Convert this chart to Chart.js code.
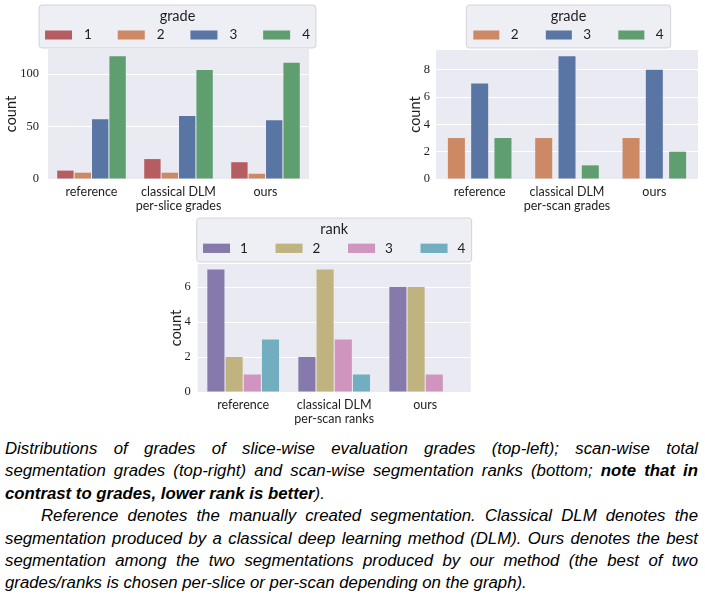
<!DOCTYPE html>
<html>
<head>
<meta charset="utf-8">
<script src="https://cdn.jsdelivr.net/npm/chart.js@4.4.0/dist/chart.umd.min.js"></script>
<style>
  html, body { margin: 0; padding: 0; background: #fff; }
  body { width: 705px; height: 594px; position: relative; overflow: hidden; }
  canvas { position: absolute; }
  #caption {
    position: absolute; left: 5px; top: 438px; width: 693px;
    font-family: "Liberation Sans", Arial, sans-serif; font-style: italic;
    font-size: 16.8px; line-height: 22.4px; color: #000;
  }
  #caption div { white-space: nowrap; text-align: justify; text-align-last: justify; }
  #caption div.last { text-align-last: left; }
  #caption div.ind { padding-left: 36px; }
</style>
</head>
<body>
<canvas id="slice-chart" width="325" height="220" style="left:0;top:0"></canvas>
<canvas id="scan-chart" width="315" height="220" style="left:390px;top:0"></canvas>
<canvas id="rank-chart" width="330" height="216" style="left:150px;top:212px"></canvas>

<div id="caption">
  <div>Distributions of grades of slice-wise evaluation grades (top-left); scan-wise total</div>
  <div>segmentation grades (top-right) and scan-wise segmentation ranks (bottom; <b>note that in</b></div>
  <div class="last"><b>contrast to grades, lower rank is better</b>).</div>
  <div class="ind">Reference denotes the manually created segmentation. Classical DLM denotes the</div>
  <div>segmentation produced by a classical deep learning method (DLM). Ours denotes the best</div>
  <div>segmentation among the two segmentations produced by our method (the best of two</div>
  <div class="last">grades/ranks is chosen per-slice or per-scan depending on the graph).</div>
</div>

<script>
// values

// per-slice grades (top-left)
var sliceCategories = ['reference', ['classical DLM', 'per-slice grades'], 'ours'];
var sliceGrade1 = [8, 19, 16];
var sliceGrade2 = [6, 6, 5];
var sliceGrade3 = [57, 60, 56];
var sliceGrade4 = [117, 104, 111];
var sliceTicks = [0, 50, 100];

// per-scan grades (top-right)
var scanCategories = ['reference', ['classical DLM', 'per-scan grades'], 'ours'];
var scanGrade2 = [3, 3, 3];
var scanGrade3 = [7, 9, 8];
var scanGrade4 = [3, 1, 2];
var scanTicks = [0, 2, 4, 6, 8];

// per-scan ranks (bottom)
var rankCategories = ['reference', ['classical DLM', 'per-scan ranks'], 'ours'];
var rank1 = [7, 2, 6];
var rank2 = [2, 7, 6];
var rank3 = [1, 3, 1];
var rank4 = [3, 1, 0];
var rankTicks = [0, 2, 4, 6];

var textColor = '#1e1e1e';
var sansFont = 'Lato, "Open Sans", sans-serif';
var serifFont = '"Liberation Serif", "DejaVu Serif", serif';

// seaborn-ish grey panel behind the axes
var panelBg = {
    id: 'panelBg',
    beforeDraw: function (chart) {
        var a = chart.chartArea;
        var ctx = chart.ctx;
        ctx.save();
        ctx.fillStyle = '#eaeaf2';
        ctx.fillRect(a.left, a.top, a.right - a.left, a.bottom - a.top);
        ctx.restore();
    }
};

// legend drawn as a framed box above the plot, title on top, items in one row
var legendBox = {
    id: 'legendBox',
    afterDraw: function (chart, args, o) {
        var ctx = chart.ctx;
        var a = chart.chartArea;
        var sets = chart.data.datasets;
        ctx.save();
        ctx.font = '13.5px ' + sansFont;
        var lastW = o.textGap + ctx.measureText(sets[sets.length - 1].label).width;
        var w = o.pad * 2 + (sets.length - 1) * o.pitch + lastW;
        var left = (a.left + a.right) / 2 - w / 2 + (o.shift || 0);
        var top = o.top;
        var h = o.height;
        var r = 3;

        ctx.beginPath();
        ctx.moveTo(left + r, top);
        ctx.lineTo(left + w - r, top);
        ctx.arcTo(left + w, top, left + w, top + r, r);
        ctx.lineTo(left + w, top + h - r);
        ctx.arcTo(left + w, top + h, left + w - r, top + h, r);
        ctx.lineTo(left + r, top + h);
        ctx.arcTo(left, top + h, left, top + h - r, r);
        ctx.lineTo(left, top + r);
        ctx.arcTo(left, top, left + r, top, r);
        ctx.closePath();
        ctx.fillStyle = 'rgba(234,234,242,0.8)';
        ctx.fill();
        ctx.strokeStyle = 'rgba(204,204,204,0.8)';
        ctx.lineWidth = 1;
        ctx.stroke();

        ctx.fillStyle = textColor;
        ctx.textBaseline = 'middle';
        ctx.textAlign = 'center';
        ctx.font = '14.5px ' + sansFont;
        ctx.fillText(o.title, left + w / 2, top + o.titleY);

        ctx.font = '13.5px ' + sansFont;
        ctx.textAlign = 'left';
        for (var i = 0; i < sets.length; i++) {
            var x = left + o.pad + i * o.pitch;
            ctx.fillStyle = sets[i].backgroundColor;
            ctx.fillRect(x, top + o.rowY - o.patchH / 2, o.patchW, o.patchH);
            ctx.fillStyle = textColor;
            ctx.fillText(sets[i].label, x + o.textGap, top + o.rowY);
        }
        ctx.restore();
    }
};

function series(label, values, color) {
    return { label: label, data: values, backgroundColor: color, borderWidth: 0 };
}

function drawCountPlot(id, categories, datasets, yMax, yTicks, geo, legend) {
    var ctx = document.getElementById(id).getContext('2d');
    return new Chart(ctx, {
        type: 'bar',
        data: { labels: categories, datasets: datasets },
        plugins: [panelBg, legendBox],
        options: {
            responsive: false,
            animation: false,
            events: [],
            categoryPercentage: 0.8,
            barPercentage: geo.barPct,
            layout: { padding: { top: geo.top, right: geo.right, left: 0, bottom: 0 } },
            plugins: {
                legend: { display: false },
                tooltip: { enabled: false },
                legendBox: legend
            },
            scales: {
                x: {
                    grid: { display: false, drawTicks: false },
                    border: { display: false },
                    ticks: {
                        color: textColor,
                        padding: geo.xPad,
                        maxRotation: 0,
                        autoSkip: false,
                        font: { family: sansFont, size: 12.5, lineHeight: '14px' }
                    },
                    afterFit: function (s) { s.height = geo.xh; }
                },
                y: {
                    min: 0,
                    max: yMax,
                    grid: { color: '#ffffff', lineWidth: 1, drawTicks: false },
                    border: { display: false },
                    ticks: {
                        color: textColor,
                        padding: geo.yPad,
                        includeBounds: false,
                        font: { family: serifFont, size: 12.5 }
                    },
                    afterBuildTicks: function (s) {
                        s.ticks = yTicks.map(function (v) { return { value: v }; });
                    },
                    title: {
                        display: true,
                        text: 'count',
                        color: textColor,
                        font: { family: sansFont, size: 14.5 },
                        padding: { top: geo.titlePad, bottom: 0 }
                    },
                    afterFit: function (s) { s.width = geo.yw; }
                }
            }
        }
    });
}

drawCountPlot('slice-chart', sliceCategories, [
    series('1', sliceGrade1, '#b55d60'),
    series('2', sliceGrade2, '#cc8963'),
    series('3', sliceGrade3, '#5975a4'),
    series('4', sliceGrade4, '#5f9e6e')
], 124, sliceTicks,
    { top: 49, right: 16, xh: 41, yw: 48, xPad: 6, yPad: 9, titlePad: 2.3, barPct: 0.94 },
    { title: 'grade', top: 5, height: 43, titleY: 11, rowY: 30, pad: 6, pitch: 72.7, patchW: 27, patchH: 9, textGap: 39, shift: -1 });

drawCountPlot('scan-chart', scanCategories, [
    series('2', scanGrade2, '#cc8963'),
    series('3', scanGrade3, '#5975a4'),
    series('4', scanGrade4, '#5f9e6e')
], 9.45, scanTicks,
    { top: 50, right: 7, xh: 41, yw: 46, xPad: 6, yPad: 6, titlePad: 16.3, barPct: 0.73 },
    { title: 'grade', top: 5, height: 43, titleY: 11, rowY: 30, pad: 7, pitch: 72.5, patchW: 26, patchH: 9, textGap: 37.5, shift: 1.5 });

drawCountPlot('rank-chart', rankCategories, [
    series('1', rank1, '#857aab'),
    series('2', rank2, '#c1b37f'),
    series('3', rank3, '#d095bf'),
    series('4', rank4, '#71aec0')
], 7.32, rankTicks,
    { top: 52, right: 9.3, xh: 36, yw: 47.7, xPad: 6, yPad: 7, titlePad: 17.3, barPct: 0.94 },
    { title: 'rank', top: 6, height: 44, titleY: 11.3, rowY: 30.3, pad: 6.3, pitch: 72.5, patchW: 27, patchH: 9.3, textGap: 37, shift: 0 });
</script>
</body>
</html>
